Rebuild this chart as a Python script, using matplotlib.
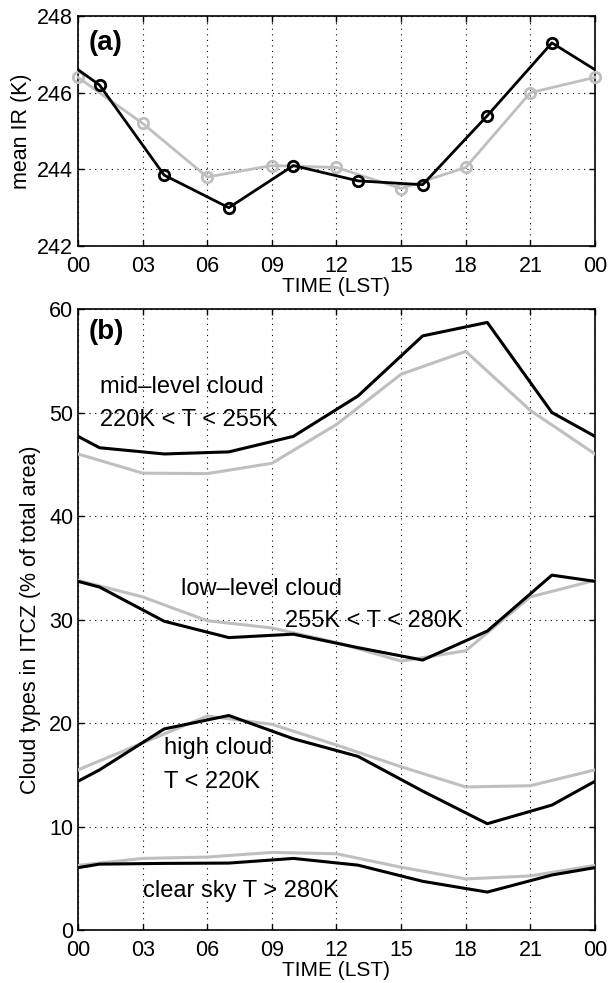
import numpy as np
import matplotlib.pyplot as plt

plt.rcParams["font.family"] = ["Liberation Sans", "DejaVu Sans"]

# hours (LST) -- black series sampled at 01,04,...,22 ; gray at 00,03,...,24
hours_k = [0, 1, 4, 7, 10, 13, 16, 19, 22, 24]
hours_g = [0, 3, 6, 9, 12, 15, 18, 21, 24]
xtick_labels = ["00", "03", "06", "09", "12", "15", "18", "21", "00"]

# (a) mean IR (K)
ir_k = [246.6, 246.2, 243.85, 243.0, 244.1, 243.7, 243.6, 245.4, 247.3, 246.6]
ir_g = [246.4, 245.2, 243.8, 244.1, 244.05, 243.5, 244.05, 246.0, 246.4]

# (b) cloud types in ITCZ (% of total area)
mid_k = [47.7, 46.6, 46.0, 46.2, 47.7, 51.6, 57.4, 58.7, 50.0, 47.7]
mid_g = [46.0, 44.15, 44.1, 45.1, 48.85, 53.7, 55.9, 50.2, 46.0]
low_k = [33.7, 33.15, 29.85, 28.27, 28.6, 27.3, 26.1, 28.9, 34.3, 33.7]
low_g = [33.8, 32.2, 29.9, 29.2, 27.8, 26.0, 27.0, 32.2, 33.8]
high_k = [14.4, 15.5, 19.45, 20.75, 18.5, 16.8, 13.45, 10.3, 12.1, 14.4]
high_g = [15.5, 18.1, 20.7, 19.9, 17.9, 15.8, 13.85, 13.97, 15.5]
clear_k = [6.06, 6.4, 6.47, 6.5, 6.95, 6.3, 4.74, 3.7, 5.35, 6.06]
clear_g = [6.28, 6.95, 7.08, 7.53, 7.4, 6.1, 4.97, 5.26, 6.28]

GRAY = (0.75, 0.75, 0.75)
FS = 15.5   # ticks / axis labels
FA = 17     # annotations

fig = plt.figure(figsize=(6.08, 9.83), dpi=100)
ax1 = fig.add_axes([0.1283, 0.7497, 0.8503, 0.234])
ax2 = fig.add_axes([0.1283, 0.0535, 0.8503, 0.6322])


def style(ax):
    ax.set_xlim(0, 24)
    ax.set_xticks(hours_g)
    ax.set_xticklabels(xtick_labels)
    ax.tick_params(direction="in", top=True, right=True, length=4,
                   width=1, labelsize=FS)
    ax.tick_params(axis="x", pad=7)
    ax.tick_params(axis="y", pad=3.5)
    ax.grid(True, color="k", linestyle=(0, (1, 4)), linewidth=0.8)
    for s in ax.spines.values():
        s.set_linewidth(1.2)
    ax.set_xlabel("TIME (LST)", fontsize=15, labelpad=0)


# ---- (a)
ax1.plot(hours_g, ir_g, color=GRAY, linewidth=2, marker="o", markersize=7.5,
         markerfacecolor="none", markeredgewidth=2, clip_on=False, zorder=3)
ax1.plot(hours_k, ir_k, color="k", linewidth=2, marker="o", markersize=7.5,
         markerfacecolor="none", markeredgewidth=2,
         markevery=list(range(1, len(hours_k) - 1)), zorder=4)
ax1.set_ylim(242, 248)
ax1.set_yticks([242, 244, 246, 248])
style(ax1)
ax1.set_ylabel("mean IR (K)", fontsize=FS, labelpad=4)
ax1.text(0.5, 247.3, "(a)", fontsize=20, fontweight="bold", va="center")

# ---- (b)
for yk, yg in [(mid_k, mid_g), (low_k, low_g), (high_k, high_g), (clear_k, clear_g)]:
    ax2.plot(hours_g, yg, color=GRAY, linewidth=2.2, zorder=3)
    ax2.plot(hours_k, yk, color="k", linewidth=2.2, zorder=4)
ax2.set_ylim(0, 60)
ax2.set_yticks(np.arange(0, 61, 10))
style(ax2)
ax2.set_ylabel("Cloud types in ITCZ (% of total area)", fontsize=FS, labelpad=6)
ax2.text(0.5, 57.75, "(b)", fontsize=20, fontweight="bold", va="center")

ax2.text(1.0, 52.5, "mid\u2013level cloud", fontsize=FA, va="center")
ax2.text(1.0, 49.3, "220K < T < 255K", fontsize=FA, va="center")
ax2.text(4.8, 33.0, "low\u2013level cloud", fontsize=FA, va="center")
ax2.text(9.6, 29.9, "255K < T < 280K", fontsize=FA, va="center")
ax2.text(4.0, 17.6, "high cloud", fontsize=FA, va="center")
ax2.text(4.0, 14.3, "T < 220K", fontsize=FA, va="center")
ax2.text(3.0, 3.85, "clear sky T > 280K", fontsize=FA, va="center")

plt.savefig("out.png")
plt.close()
